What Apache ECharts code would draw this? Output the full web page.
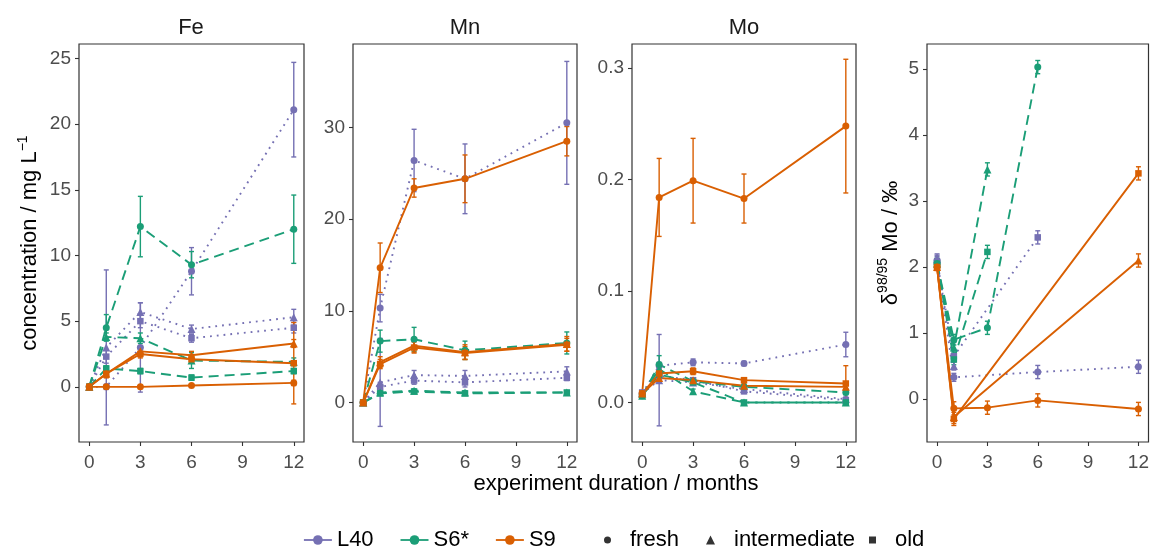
<!DOCTYPE html>
<html>
<head>
<meta charset="utf-8">
<script src="https://cdn.jsdelivr.net/npm/echarts@6/dist/echarts.min.js"></script>
<style>html,body{margin:0;padding:0;background:#fff}#c{width:1152px;height:547px}</style>
</head>
<body>
<div id="c"></div>
<script>
// ---------- data (months: 0,1,3,6,12) ----------
var months = [0, 1, 3, 6, 12];
var xTicks = [0, 3, 6, 9, 12];
var panelTitles = ['Fe', 'Mn', 'Mo', ''];
var sites = ['L40', 'S6*', 'S9'];
var ages = ['fresh', 'intermediate', 'old'];

// Fe (mg/L)
var fe_L40_fresh = [0, 0, 3.0, 8.8, 21.1];      var fe_L40_fresh_err = [0, 0.2, 3.4, 1.8, 3.6];
var fe_L40_intermediate = [0, 3.0, 5.7, 4.4, 5.3]; var fe_L40_intermediate_err = [0, 5.9, 0.7, 0.3, 0.6];
var fe_L40_old = [0, 2.3, 5.0, 3.7, 4.5];       var fe_L40_old_err = [0, 0.5, 0.5, 0.3, 0.4];
var fe_S6_fresh = [0, 4.5, 12.2, 9.3, 12.0];    var fe_S6_fresh_err = [0, 1.0, 2.3, 1.0, 2.6];
var fe_S6_intermediate = [0, 3.8, 3.7, 2.0, 1.9]; var fe_S6_intermediate_err = [0, 0.3, 0.4, 0.6, 0.3];
var fe_S6_old = [0, 1.4, 1.2, 0.7, 1.2];        var fe_S6_old_err = [0, 0.2, 0.2, 0.2, 0.2];
var fe_S9_fresh = [0, 0, 0, 0.1, 0.3];          var fe_S9_fresh_err = [0, 0.1, 0.1, 0.1, 0.2];
var fe_S9_intermediate = [0, 1.0, 2.7, 2.4, 3.3]; var fe_S9_intermediate_err = [0, 0.3, 0.4, 0.3, 0.3];
var fe_S9_old = [0, 1.0, 2.5, 2.1, 1.8];        var fe_S9_old_err = [0, 0.3, 0.3, 0.3, 3.1];

// Mn (mg/L)
var mn_L40_fresh = [0, 10.3, 26.4, 24.4, 30.5]; var mn_L40_fresh_err = [0, 1.5, 3.4, 3.8, 6.7];
var mn_L40_intermediate = [0, 2.2, 3.0, 2.9, 3.4]; var mn_L40_intermediate_err = [0, 4.8, 0.5, 0.6, 0.5];
var mn_L40_old = [0, 1.7, 2.4, 2.2, 2.7];       var mn_L40_old_err = [0, 0.5, 0.4, 0.5, 0.3];
var mn_S6_fresh = [0, 6.7, 6.9, 5.7, 6.5];      var mn_S6_fresh_err = [0, 1.2, 1.3, 1.0, 1.2];
var mn_S6_intermediate = [0, 1.1, 1.3, 1.1, 1.1]; var mn_S6_intermediate_err = [0, 0.2, 0.2, 0.2, 0.2];
var mn_S6_old = [0, 1.0, 1.2, 1.0, 1.1];        var mn_S6_old_err = [0, 0.2, 0.2, 0.2, 0.2];
var mn_S9_fresh = [0, 14.7, 23.4, 24.4, 28.5];  var mn_S9_fresh_err = [0, 2.7, 1.0, 2.6, 1.6];
var mn_S9_intermediate = [0, 4.4, 6.2, 5.5, 6.4]; var mn_S9_intermediate_err = [0, 0.6, 0.7, 0.8, 0.8];
var mn_S9_old = [0, 4.2, 6.0, 5.4, 6.3];        var mn_S9_old_err = [0, 0.5, 0.6, 0.7, 0.7];

// Mo (mg/L)
var mo_L40_fresh = [0.008, 0.033, 0.036, 0.035, 0.052]; var mo_L40_fresh_err = [0.001, 0.003, 0.003, 0.002, 0.011];
var mo_L40_intermediate = [0.008, 0.020, 0.018, 0.012, 0.003]; var mo_L40_intermediate_err = [0.001, 0.041, 0.002, 0.002, 0.002];
var mo_L40_old = [0.009, 0.024, 0.020, 0.010, 0.002]; var mo_L40_old_err = [0.001, 0.003, 0.002, 0.002, 0.002];
var mo_S6_fresh = [0.006, 0.034, 0.019, 0.014, 0.009]; var mo_S6_fresh_err = [0.001, 0.008, 0.002, 0.002, 0.002];
var mo_S6_intermediate = [0.006, 0.030, 0.010, 0.000, 0.000]; var mo_S6_intermediate_err = [0.001, 0.004, 0.002, 0.001, 0.001];
var mo_S6_old = [0.006, 0.025, 0.018, 0.000, 0.000]; var mo_S6_old_err = [0.001, 0.003, 0.002, 0.001, 0.001];
var mo_S9_fresh = [0.008, 0.184, 0.199, 0.183, 0.248]; var mo_S9_fresh_err = [0.001, 0.035, 0.038, 0.022, 0.060];
var mo_S9_intermediate = [0.008, 0.022, 0.020, 0.015, 0.014]; var mo_S9_intermediate_err = [0.001, 0.003, 0.002, 0.002, 0.002];
var mo_S9_old = [0.008, 0.026, 0.028, 0.020, 0.017]; var mo_S9_old_err = [0.001, 0.004, 0.003, 0.002, 0.016];

// delta 98/95 Mo (permil)
var d_L40_fresh = [2.1, 0.33, null, 0.41, 0.49]; var d_L40_fresh_err = [0.08, 0.06, 0, 0.1, 0.1];
var d_L40_intermediate = [2.12, 0.5, null, null, null]; var d_L40_intermediate_err = [0.08, 0.06, 0, 0, 0];
var d_L40_old = [2.08, 0.65, null, 2.45, null]; var d_L40_old_err = [0.08, 0.08, 0, 0.1, 0];
var d_S6_fresh = [2.05, 0.9, 1.08, 5.03, null]; var d_S6_fresh_err = [0.08, 0.08, 0.1, 0.1, 0];
var d_S6_intermediate = [2.05, 0.78, 3.48, null, null]; var d_S6_intermediate_err = [0.08, 0.08, 0.1, 0, 0];
var d_S6_old = [2.05, 0.6, 2.23, null, null]; var d_S6_old_err = [0.08, 0.08, 0.1, 0, 0];
var d_S9_fresh = [2.0, -0.14, -0.13, -0.02, -0.15]; var d_S9_fresh_err = [0.05, 0.1, 0.1, 0.1, 0.1];
var d_S9_intermediate = [2.0, -0.27, null, null, 2.1]; var d_S9_intermediate_err = [0.05, 0.1, 0, 0, 0.1];
var d_S9_old = [2.0, -0.3, null, null, 3.42]; var d_S9_old_err = [0.05, 0.1, 0, 0, 0.1];

// ---------- styling ----------
var panelKeys = ['fe', 'mn', 'mo', 'd'];
var siteKeys = {'L40': 'L40', 'S6*': 'S6', 'S9': 'S9'};
var siteColor = {'L40': '#7570B3', 'S6*': '#1B9E77', 'S9': '#D95F02'};
var siteDash = {'L40': [1.8, 5], 'S6*': [10, 6], 'S9': 'solid'};
var ageSymbol = {fresh: 'circle', intermediate: 'triangle', old: 'rect'};
var ageSize = {fresh: 7, intermediate: 8, old: 6.5};
var FONT = "'Liberation Sans', Arial, sans-serif";

var grids = [
  {left: 79, top: 44, width: 225, height: 398},
  {left: 353, top: 44, width: 224, height: 398},
  {left: 632, top: 44, width: 224, height: 398},
  {left: 927, top: 44, width: 223, height: 398}
];
var yRanges = [[-4.2, 26.1], [-4.3, 39.1], [-0.0355, 0.3217], [-0.65, 5.38]];
var yTicks = [[0, 5, 10, 15, 20, 25], [0, 10, 20, 30], [0, 0.1, 0.2, 0.3], [0, 1, 2, 3, 4, 5]];

var supRich = {sup: {fontSize: 14, lineHeight: 28, verticalAlign: 'top', padding: [0, 0, 12, 0], color: '#000', fontFamily: FONT}};

var option = {
  animation: false,
  backgroundColor: '#fff',
  textStyle: {fontFamily: FONT},
  grid: grids.map(function (g) {
    return Object.assign({show: true, borderColor: '#333333', borderWidth: 1.2, backgroundColor: '#fff', containLabel: false}, g);
  }),
  xAxis: grids.map(function (g, i) {
    return {
      type: 'value', gridIndex: i, min: -0.6, max: 12.6,
      axisLine: {show: false, onZero: false},
      splitLine: {show: false},
      axisTick: {show: true, length: 4, customValues: xTicks, lineStyle: {color: '#333333', width: 1.1}},
      axisLabel: {customValues: xTicks, color: '#4D4D4D', fontSize: 19, margin: 11, fontFamily: FONT}
    };
  }),
  yAxis: grids.map(function (g, i) {
    var ax = {
      type: 'value', gridIndex: i, min: yRanges[i][0], max: yRanges[i][1],
      axisLine: {show: false, onZero: false},
      splitLine: {show: false},
      axisTick: {show: true, length: 4, customValues: yTicks[i], lineStyle: {color: '#333333', width: 1.1}},
      axisLabel: {customValues: yTicks[i], color: '#4D4D4D', fontSize: 19, margin: 8, fontFamily: FONT,
        formatter: function (v) { return i === 2 ? v.toFixed(1) : String(v); }}
    };
    if (i === 0) {
      ax.name = 'concentration / mg L{sup|−1}';
      ax.nameLocation = 'middle';
      ax.nameGap = 35;
      ax.nameTextStyle = {fontSize: 22, color: '#000', fontFamily: FONT, lineHeight: 28, rich: supRich};
    }
    if (i === 3) {
      ax.name = 'δ{sup|98/95} Mo / ‰';
      ax.nameLocation = 'middle';
      ax.nameGap = 18;
      ax.nameTextStyle = {fontSize: 22, color: '#000', fontFamily: FONT, lineHeight: 28, rich: supRich};
    }
    return ax;
  }),
  legend: [
    {
      data: sites, left: 298, top: 524, itemWidth: 28, itemHeight: 12, itemGap: 26,
      lineStyle: {type: 'solid', width: 1.8},
      textStyle: {fontSize: 22, color: '#000', fontFamily: FONT}, selectedMode: false
    },
    {data: ['fresh'], left: 599, top: 524, itemWidth: 7, itemHeight: 7, selectedMode: false,
      textStyle: {fontSize: 22, color: '#000', fontFamily: FONT, padding: [0, 0, 0, 14]}},
    {data: ['intermediate'], left: 701, top: 524, itemWidth: 9, itemHeight: 9, selectedMode: false,
      textStyle: {fontSize: 22, color: '#000', fontFamily: FONT, padding: [0, 0, 0, 14]}},
    {data: ['old'], left: 864, top: 524, itemWidth: 7, itemHeight: 7, selectedMode: false,
      textStyle: {fontSize: 22, color: '#000', fontFamily: FONT, padding: [0, 0, 0, 14]}}
  ],
  graphic: [],
  series: []
};

// panel titles and x-axis title
option.graphic = [191, 465, 744].map(function (cx, i) {
  return {type: 'text', x: cx, y: 17, style: {text: panelTitles[i], font: '22px ' + FONT, fill: '#1A1A1A', textAlign: 'center'}};
});
option.graphic.push({type: 'text', x: 616, y: 473, style: {text: 'experiment duration / months', font: '22px ' + FONT, fill: '#000', textAlign: 'center'}});

// line series
var errSeries = [];
panelKeys.forEach(function (pk, p) {
  sites.forEach(function (site) {
    ages.forEach(function (age) {
      var base = pk + '_' + siteKeys[site] + '_' + age;
      var vals = window[base];
      var errs = window[base + '_err'];
      option.series.push({
        type: 'line', name: site, xAxisIndex: p, yAxisIndex: p,
        data: months.map(function (m, k) { return [m, vals[k]]; }),
        connectNulls: true,
        symbol: ageSymbol[age], symbolSize: ageSize[age], showSymbol: true,
        itemStyle: {color: siteColor[site]},
        lineStyle: {color: siteColor[site], width: 1.9, type: siteDash[site]},
        z: 3, silent: true
      });
      var ed = [];
      months.forEach(function (m, k) {
        if (vals[k] !== null && errs[k] > 0) ed.push([m, vals[k] - errs[k], vals[k] + errs[k]]);
      });
      var col = siteColor[site];
      errSeries.push({
        type: 'custom', name: site, xAxisIndex: p, yAxisIndex: p, data: ed,
        encode: {x: 0, y: [1, 2]}, z: 2, silent: true,
        itemStyle: {color: col},
        renderItem: function (params, api) {
          var x = api.value(0);
          var lo = api.coord([x, api.value(1)]);
          var hi = api.coord([x, api.value(2)]);
          var w = 2.5;
          var st = {stroke: col, lineWidth: 1.4};
          return {type: 'group', children: [
            {type: 'line', shape: {x1: lo[0], y1: lo[1], x2: hi[0], y2: hi[1]}, style: st},
            {type: 'line', shape: {x1: lo[0] - w, y1: lo[1], x2: lo[0] + w, y2: lo[1]}, style: st},
            {type: 'line', shape: {x1: hi[0] - w, y1: hi[1], x2: hi[0] + w, y2: hi[1]}, style: st}
          ]};
        }
      });
    });
  });
});
option.series = option.series.concat(errSeries);
// shape legend carriers
ages.forEach(function (age) {
  option.series.push({type: 'scatter', name: age, xAxisIndex: 0, yAxisIndex: 0, data: [],
    symbol: ageSymbol[age], itemStyle: {color: '#000'}});
});

var chart = echarts.init(document.getElementById('c'), null, {renderer: 'canvas'});
chart.setOption(option);
</script>
</body>
</html>
